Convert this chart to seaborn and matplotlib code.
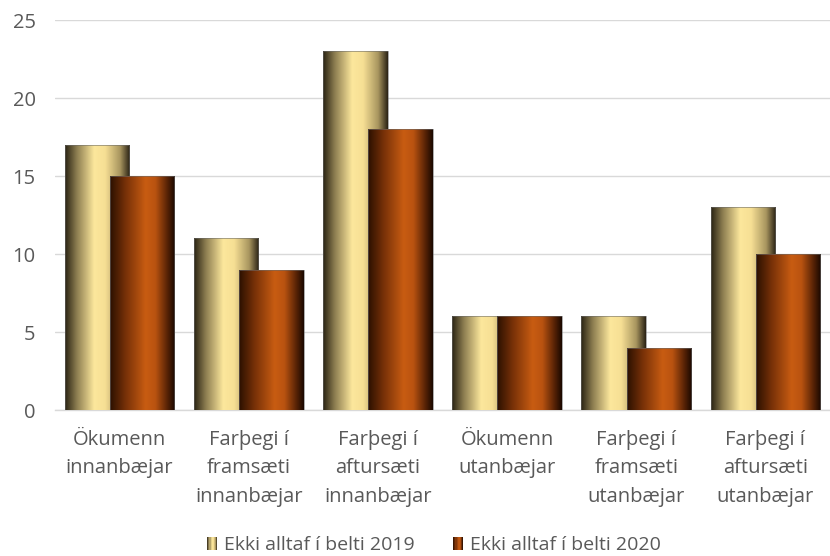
import numpy as np
import pandas as pd
import matplotlib
matplotlib.use("Agg")
import matplotlib.pyplot as plt
import seaborn as sns
from matplotlib.colors import LinearSegmentedColormap
from matplotlib.patches import Patch, Rectangle
from matplotlib.legend_handler import HandlerBase

categories = ["Ökumenn\ninnanbæjar", "Farþegi í\nframsæti\ninnanbæjar",
              "Farþegi í\naftursæti\ninnanbæjar", "Ökumenn\nutanbæjar",
              "Farþegi í\nframsæti\nutanbæjar", "Farþegi í\naftursæti\nutanbæjar"]
series_names = ["Ekki alltaf í belti 2019", "Ekki alltaf í belti 2020"]
values_2019 = [17, 11, 23, 6, 6, 13]
values_2020 = [15, 9, 18, 6, 4, 10]
y_ticks = [0, 5, 10, 15, 20, 25]

df = pd.DataFrame({
    "cat": categories * 2,
    "series": [series_names[0]] * len(categories) + [series_names[1]] * len(categories),
    "value": values_2019 + values_2020,
})

sns.set_theme(style="white")
plt.rcParams['font.family'] = ['Open Sans', 'DejaVu Sans']
TXT = "#595959"
FS = 14.5

cmap19 = LinearSegmentedColormap.from_list("c19", [
    (0.0, "#2a2313"), (0.18, "#8c7d50"), (0.45, "#fce79c"), (0.62, "#f6df94"),
    (0.85, "#a8955f"), (1.0, "#2a2214")])
cmap20 = LinearSegmentedColormap.from_list("c20", [
    (0.0, "#2b1000"), (0.25, "#7a3208"), (0.55, "#c85c12"), (0.7, "#b95310"),
    (0.88, "#5a2406"), (1.0, "#1a0800")])
cmaps = [cmap19, cmap20]

fig = plt.figure(figsize=(8.3, 5.56), dpi=100)
ax = fig.add_axes([55 / 830, 1 - 410 / 556, 1 - 55 / 830, (410 - 20) / 556])

sns.barplot(data=df, x="cat", y="value", hue="series", order=categories,
            hue_order=series_names, palette=["#f5dc8f", "#c55a11"],
            width=0.7, dodge=True, ax=ax, legend=False, saturation=1,
            errorbar=None)

grad = np.linspace(0, 1, 256).reshape(1, -1)
for k, cont in enumerate(ax.containers):
    for p in cont.patches:
        x0 = p.get_x() + p.get_width() / 2
        # widen each bar so the pair overlaps
        w = 0.5
        p.set_x(x0 - w / 2)
        p.set_width(w)
        h = p.get_height()
        img = ax.imshow(grad, cmap=cmaps[k], extent=[x0 - w / 2, x0 + w / 2, 0, h],
                        aspect="auto", zorder=2 + k * 0.2, interpolation="bilinear")
        img.set_clip_path(p)
        p.set_facecolor("none")
        p.set_edgecolor("#6b6b6b")
        p.set_linewidth(0.4)
        p.set_zorder(2.1 + k * 0.2)

ax.set_xlim(-0.5, len(categories) - 0.5)
ax.set_ylim(0, 25)
ax.set_yticks(y_ticks)
ax.yaxis.grid(True, color="#d9d9d9", linewidth=1)
ax.set_axisbelow(True)
for s in ["top", "right", "left"]:
    ax.spines[s].set_visible(False)
ax.spines["bottom"].set_color("#d9d9d9")
ax.spines["bottom"].set_linewidth(1)
ax.spines["bottom"].set_zorder(1)
ax.set_xlabel("")
ax.set_ylabel("")
ax.tick_params(axis="y", length=0, pad=14, labelsize=FS, labelcolor=TXT)
ax.tick_params(axis="x", length=0, pad=14.5, labelsize=FS, labelcolor=TXT)
for t in ax.get_xticklabels():
    t.set_linespacing(1.55)


class GradHandler(HandlerBase):
    def __init__(self, cmap):
        super().__init__()
        self.cmap = cmap

    def create_artists(self, legend, orig_handle, xdescent, ydescent, width,
                       height, fontsize, trans):
        n = 9
        arts = []
        for i in range(n):
            arts.append(Rectangle((-xdescent + i * width / n, -ydescent), width / n,
                                  height, facecolor=self.cmap((i + 0.5) / n),
                                  edgecolor="none", transform=trans))
        return arts


handles = [Patch(label=series_names[0]), Patch(label=series_names[1])]
leg = fig.legend(handles=handles, labels=series_names, loc="center",
                 bbox_to_anchor=(434 / 830, 1 - 545 / 556), ncol=2, frameon=False,
                 fontsize=14, handlelength=0.5, handleheight=0.65, handletextpad=0.35,
                 columnspacing=2.0,
                 handler_map={handles[0]: GradHandler(cmap19),
                              handles[1]: GradHandler(cmap20)})
for t in leg.get_texts():
    t.set_color(TXT)

fig.savefig("out.png", dpi=100)
